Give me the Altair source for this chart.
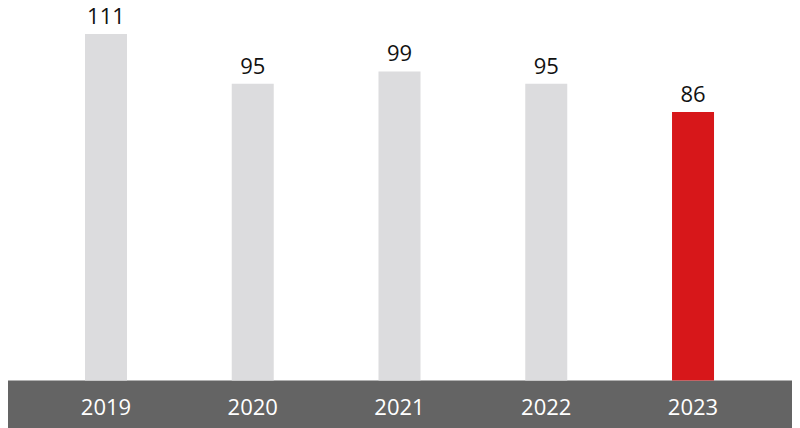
import altair as alt
import pandas as pd

years = ["2019", "2020", "2021", "2022", "2023"]
values = [111, 95, 99, 95, 86]
colors = ["#DCDCDE", "#DCDCDE", "#DCDCDE", "#DCDCDE", "#D7171A"]

df = pd.DataFrame({"year": years, "value": values, "color": colors})

W, H = 784, 372.5
BOTTOM = 47.5
xscale = alt.Scale(domain=years, range=[24.6, 758.4], paddingInner=0, paddingOuter=0)
yscale = alt.Scale(domain=[0, 119.3], nice=False, zero=True)

base = alt.Chart(df)

band = base.transform_filter(alt.datum.year == "2019").mark_rect(color="#646464").encode(
    x=alt.value(0), x2=alt.value(W), y=alt.value(H), y2=alt.value(H + BOTTOM)
)

bars = base.mark_bar(size=42).encode(
    x=alt.X("year:N", scale=xscale, axis=None, sort=years),
    y=alt.Y("value:Q", scale=yscale, axis=None),
    color=alt.Color("color:N", scale=None, legend=None),
)

vals = base.mark_text(
    baseline="alphabetic", dy=-10, fontSize=22, font="Open Sans", color="#111111"
).encode(
    x=alt.X("year:N", scale=xscale, axis=None, sort=years),
    y=alt.Y("value:Q", scale=yscale, axis=None),
    text="value:Q",
)

yrs = base.mark_text(
    baseline="alphabetic", fontSize=22, font="Open Sans", color="#FFFFFF"
).encode(
    x=alt.X("year:N", scale=xscale, axis=None, sort=years),
    y=alt.value(H + 34.5),
    text="year:N",
)

chart = alt.layer(band, bars, vals, yrs).properties(
    width=W, height=H,
    autosize=alt.AutoSizeParams(type="none"),
    padding={"left": 0, "top": 0, "right": 0, "bottom": BOTTOM},
).configure_view(stroke=None)

chart.save("out.html", embed_options={"renderer": "svg", "actions": False})
